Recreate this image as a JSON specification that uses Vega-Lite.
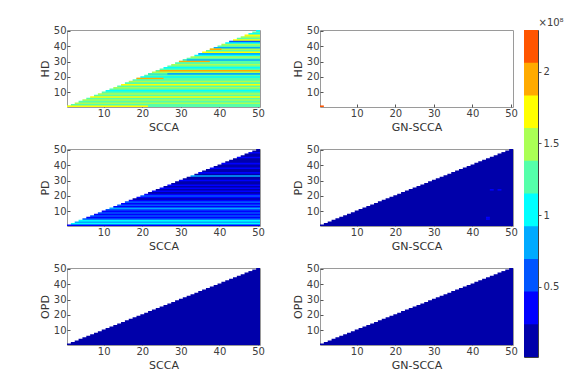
{
  "$schema": "https://vega.github.io/schema/vega-lite/v6.json",
  "padding": {"left": 38, "top": 16, "right": 5, "bottom": 5},
  "background": "white",
  "config": {
    "font": "DejaVu Sans",
    "view": {"stroke": "#9a9a9a", "strokeWidth": 1},
    "axis": {"labelFont": "DejaVu Sans", "labelFontSize": 10, "labelColor": "#404040", "titleFont": "DejaVu Sans", "titleFontSize": 11, "titleFontWeight": 400, "titleColor": "#333333", "domain": false, "tickColor": "#555555", "tickSize": -3, "grid": false, "labelPadding": 4, "titlePadding": 3},
    "rect": {"strokeWidth": 0}
  },
  "datasets": {
    "p1": [
      {"r":50,"y0":0.5,"y1":50.5,"xs":49.5,"xe":50.5,"v":1.04},
      {"r":49,"y0":0.5,"y1":49.5,"xs":48.5,"xe":50.5,"v":1.26},
      {"r":48,"y0":0.5,"y1":48.5,"xs":47.5,"xe":50.5,"v":1.04},
      {"r":47,"y0":0.5,"y1":47.5,"xs":46.5,"xe":50.5,"v":1.72},
      {"r":46,"y0":0.5,"y1":46.5,"xs":45.5,"xe":50.5,"v":1.49},
      {"r":45,"y0":0.5,"y1":45.5,"xs":44.5,"xe":50.5,"v":1.26},
      {"r":44,"y0":0.5,"y1":44.5,"xs":43.5,"xe":50.5,"v":1.72},
      {"r":43,"y0":0.5,"y1":43.5,"xs":42.5,"xe":50.5,"v":0.58},
      {"r":42,"y0":0.5,"y1":42.5,"xs":41.5,"xe":50.5,"v":1.04},
      {"r":41,"y0":0.5,"y1":41.5,"xs":40.5,"xe":50.5,"v":1.49},
      {"r":40,"y0":0.5,"y1":40.5,"xs":39.5,"xe":50.5,"v":1.26},
      {"r":39,"y0":0.5,"y1":39.5,"xs":38.5,"xe":50.5,"v":0.81},
      {"r":38,"y0":0.5,"y1":38.5,"xs":37.5,"xe":50.5,"v":1.49},
      {"r":38,"y0":37.5,"y1":38.5,"xs":37.5,"xe":40.5,"v":1.95},
      {"r":37,"y0":0.5,"y1":37.5,"xs":36.5,"xe":50.5,"v":1.26},
      {"r":36,"y0":0.5,"y1":36.5,"xs":35.5,"xe":50.5,"v":1.72},
      {"r":35,"y0":0.5,"y1":35.5,"xs":34.5,"xe":50.5,"v":0.81},
      {"r":34,"y0":0.5,"y1":34.5,"xs":33.5,"xe":50.5,"v":1.04},
      {"r":33,"y0":0.5,"y1":33.5,"xs":32.5,"xe":50.5,"v":1.49},
      {"r":32,"y0":0.5,"y1":32.5,"xs":31.5,"xe":50.5,"v":1.26},
      {"r":31,"y0":0.5,"y1":31.5,"xs":30.5,"xe":50.5,"v":0.81},
      {"r":31,"y0":30.5,"y1":31.5,"xs":30.5,"xe":31.5,"v":1.26},
      {"r":30,"y0":0.5,"y1":30.5,"xs":29.5,"xe":50.5,"v":1.26},
      {"r":30,"y0":29.5,"y1":30.5,"xs":29.5,"xe":37.5,"v":1.95},
      {"r":29,"y0":0.5,"y1":29.5,"xs":28.5,"xe":50.5,"v":1.26},
      {"r":28,"y0":0.5,"y1":28.5,"xs":27.5,"xe":50.5,"v":1.49},
      {"r":27,"y0":0.5,"y1":27.5,"xs":26.5,"xe":50.5,"v":1.26},
      {"r":26,"y0":0.5,"y1":26.5,"xs":25.5,"xe":50.5,"v":1.04},
      {"r":25,"y0":0.5,"y1":25.5,"xs":24.5,"xe":50.5,"v":1.26},
      {"r":24,"y0":0.5,"y1":24.5,"xs":23.5,"xe":50.5,"v":1.95},
      {"r":24,"y0":23.5,"y1":24.5,"xs":23.5,"xe":24.5,"v":1.26},
      {"r":23,"y0":0.5,"y1":23.5,"xs":22.5,"xe":50.5,"v":1.49},
      {"r":22,"y0":0.5,"y1":22.5,"xs":21.5,"xe":50.5,"v":0.81},
      {"r":22,"y0":21.5,"y1":22.5,"xs":21.5,"xe":26.5,"v":1.26},
      {"r":21,"y0":0.5,"y1":21.5,"xs":20.5,"xe":50.5,"v":1.26},
      {"r":20,"y0":0.5,"y1":20.5,"xs":19.5,"xe":50.5,"v":1.04},
      {"r":19,"y0":0.5,"y1":19.5,"xs":18.5,"xe":50.5,"v":1.26},
      {"r":19,"y0":18.5,"y1":19.5,"xs":18.5,"xe":25.5,"v":1.95},
      {"r":18,"y0":0.5,"y1":18.5,"xs":17.5,"xe":50.5,"v":1.26},
      {"r":17,"y0":0.5,"y1":17.5,"xs":16.5,"xe":50.5,"v":1.49},
      {"r":16,"y0":0.5,"y1":16.5,"xs":15.5,"xe":50.5,"v":1.26},
      {"r":15,"y0":0.5,"y1":15.5,"xs":14.5,"xe":50.5,"v":1.72},
      {"r":14,"y0":0.5,"y1":14.5,"xs":13.5,"xe":50.5,"v":1.26},
      {"r":13,"y0":0.5,"y1":13.5,"xs":12.5,"xe":50.5,"v":1.49},
      {"r":12,"y0":0.5,"y1":12.5,"xs":11.5,"xe":50.5,"v":1.26},
      {"r":11,"y0":0.5,"y1":11.5,"xs":10.5,"xe":50.5,"v":1.04},
      {"r":10,"y0":0.5,"y1":10.5,"xs":9.5,"xe":50.5,"v":1.26},
      {"r":9,"y0":0.5,"y1":9.5,"xs":8.5,"xe":50.5,"v":1.49},
      {"r":8,"y0":0.5,"y1":8.5,"xs":7.5,"xe":50.5,"v":1.26},
      {"r":7,"y0":0.5,"y1":7.5,"xs":6.5,"xe":50.5,"v":1.72},
      {"r":6,"y0":0.5,"y1":6.5,"xs":5.5,"xe":50.5,"v":1.26},
      {"r":5,"y0":0.5,"y1":5.5,"xs":4.5,"xe":50.5,"v":1.49},
      {"r":4,"y0":0.5,"y1":4.5,"xs":3.5,"xe":50.5,"v":1.26},
      {"r":3,"y0":0.5,"y1":3.5,"xs":2.5,"xe":50.5,"v":1.49},
      {"r":2,"y0":0.5,"y1":2.5,"xs":1.5,"xe":50.5,"v":1.26},
      {"r":1,"y0":0.5,"y1":1.5,"xs":0.5,"xe":50.5,"v":1.26},
      {"r":1,"y0":0.5,"y1":1.5,"xs":0.5,"xe":21.5,"v":1.72}
    ],
    "p2": [{"r":1,"y0":0.5,"y1":1.5,"xs":0.5,"xe":1.5,"v":2.18}],
    "p3": [
      {"r":50,"y0":0.5,"y1":50.5,"xs":49.5,"xe":50.5,"v":0.12},
      {"r":49,"y0":0.5,"y1":49.5,"xs":48.5,"xe":50.5,"v":0.12},
      {"r":48,"y0":0.5,"y1":48.5,"xs":47.5,"xe":50.5,"v":0.35},
      {"r":47,"y0":0.5,"y1":47.5,"xs":46.5,"xe":50.5,"v":0.12},
      {"r":46,"y0":0.5,"y1":46.5,"xs":45.5,"xe":50.5,"v":0.12},
      {"r":45,"y0":0.5,"y1":45.5,"xs":44.5,"xe":50.5,"v":0.35},
      {"r":44,"y0":0.5,"y1":44.5,"xs":43.5,"xe":50.5,"v":0.12},
      {"r":43,"y0":0.5,"y1":43.5,"xs":42.5,"xe":50.5,"v":0.12},
      {"r":42,"y0":0.5,"y1":42.5,"xs":41.5,"xe":50.5,"v":0.12},
      {"r":41,"y0":0.5,"y1":41.5,"xs":40.5,"xe":50.5,"v":0.35},
      {"r":40,"y0":0.5,"y1":40.5,"xs":39.5,"xe":50.5,"v":0.12},
      {"r":39,"y0":0.5,"y1":39.5,"xs":38.5,"xe":50.5,"v":0.12},
      {"r":38,"y0":0.5,"y1":38.5,"xs":37.5,"xe":50.5,"v":0.35},
      {"r":37,"y0":0.5,"y1":37.5,"xs":36.5,"xe":50.5,"v":0.12},
      {"r":36,"y0":0.5,"y1":36.5,"xs":35.5,"xe":50.5,"v":0.12},
      {"r":35,"y0":0.5,"y1":35.5,"xs":34.5,"xe":50.5,"v":0.35},
      {"r":34,"y0":0.5,"y1":34.5,"xs":33.5,"xe":50.5,"v":0.12},
      {"r":33,"y0":0.5,"y1":33.5,"xs":32.5,"xe":50.5,"v":0.81},
      {"r":32,"y0":0.5,"y1":32.5,"xs":31.5,"xe":50.5,"v":0.12},
      {"r":31,"y0":0.5,"y1":31.5,"xs":30.5,"xe":50.5,"v":0.12},
      {"r":30,"y0":0.5,"y1":30.5,"xs":29.5,"xe":50.5,"v":0.35},
      {"r":29,"y0":0.5,"y1":29.5,"xs":28.5,"xe":50.5,"v":0.12},
      {"r":28,"y0":0.5,"y1":28.5,"xs":27.5,"xe":50.5,"v":0.12},
      {"r":27,"y0":0.5,"y1":27.5,"xs":26.5,"xe":50.5,"v":0.35},
      {"r":26,"y0":0.5,"y1":26.5,"xs":25.5,"xe":50.5,"v":0.12},
      {"r":25,"y0":0.5,"y1":25.5,"xs":24.5,"xe":50.5,"v":0.35},
      {"r":24,"y0":0.5,"y1":24.5,"xs":23.5,"xe":50.5,"v":0.12},
      {"r":23,"y0":0.5,"y1":23.5,"xs":22.5,"xe":50.5,"v":0.35},
      {"r":22,"y0":0.5,"y1":22.5,"xs":21.5,"xe":50.5,"v":0.12},
      {"r":21,"y0":0.5,"y1":21.5,"xs":20.5,"xe":50.5,"v":0.35},
      {"r":20,"y0":0.5,"y1":20.5,"xs":19.5,"xe":50.5,"v":0.58},
      {"r":19,"y0":0.5,"y1":19.5,"xs":18.5,"xe":50.5,"v":0.35},
      {"r":18,"y0":0.5,"y1":18.5,"xs":17.5,"xe":50.5,"v":0.12},
      {"r":17,"y0":0.5,"y1":17.5,"xs":16.5,"xe":50.5,"v":0.35},
      {"r":16,"y0":0.5,"y1":16.5,"xs":15.5,"xe":50.5,"v":0.58},
      {"r":15,"y0":0.5,"y1":15.5,"xs":14.5,"xe":50.5,"v":0.35},
      {"r":14,"y0":0.5,"y1":14.5,"xs":13.5,"xe":50.5,"v":0.58},
      {"r":13,"y0":0.5,"y1":13.5,"xs":12.5,"xe":50.5,"v":0.35},
      {"r":12,"y0":0.5,"y1":12.5,"xs":11.5,"xe":50.5,"v":0.81},
      {"r":11,"y0":0.5,"y1":11.5,"xs":10.5,"xe":50.5,"v":0.58},
      {"r":10,"y0":0.5,"y1":10.5,"xs":9.5,"xe":50.5,"v":0.35},
      {"r":9,"y0":0.5,"y1":9.5,"xs":8.5,"xe":50.5,"v":0.58},
      {"r":8,"y0":0.5,"y1":8.5,"xs":7.5,"xe":50.5,"v":0.35},
      {"r":7,"y0":0.5,"y1":7.5,"xs":6.5,"xe":50.5,"v":0.58},
      {"r":6,"y0":0.5,"y1":6.5,"xs":5.5,"xe":50.5,"v":0.35},
      {"r":5,"y0":0.5,"y1":5.5,"xs":4.5,"xe":50.5,"v":0.58},
      {"r":4,"y0":0.5,"y1":4.5,"xs":3.5,"xe":50.5,"v":1.04},
      {"r":3,"y0":0.5,"y1":3.5,"xs":2.5,"xe":50.5,"v":0.81},
      {"r":2,"y0":0.5,"y1":2.5,"xs":1.5,"xe":50.5,"v":1.04},
      {"r":1,"y0":0.5,"y1":1.5,"xs":0.5,"xe":50.5,"v":0.35}
    ],
    "uni": [
      {"r":50,"y0":0.5,"y1":50.5,"xs":49.5,"xe":50.5,"v":0.12},{"r":49,"y0":0.5,"y1":49.5,"xs":48.5,"xe":50.5,"v":0.12},{"r":48,"y0":0.5,"y1":48.5,"xs":47.5,"xe":50.5,"v":0.12},{"r":47,"y0":0.5,"y1":47.5,"xs":46.5,"xe":50.5,"v":0.12},{"r":46,"y0":0.5,"y1":46.5,"xs":45.5,"xe":50.5,"v":0.12},
      {"r":45,"y0":0.5,"y1":45.5,"xs":44.5,"xe":50.5,"v":0.12},{"r":44,"y0":0.5,"y1":44.5,"xs":43.5,"xe":50.5,"v":0.12},{"r":43,"y0":0.5,"y1":43.5,"xs":42.5,"xe":50.5,"v":0.12},{"r":42,"y0":0.5,"y1":42.5,"xs":41.5,"xe":50.5,"v":0.12},{"r":41,"y0":0.5,"y1":41.5,"xs":40.5,"xe":50.5,"v":0.12},
      {"r":40,"y0":0.5,"y1":40.5,"xs":39.5,"xe":50.5,"v":0.12},{"r":39,"y0":0.5,"y1":39.5,"xs":38.5,"xe":50.5,"v":0.12},{"r":38,"y0":0.5,"y1":38.5,"xs":37.5,"xe":50.5,"v":0.12},{"r":37,"y0":0.5,"y1":37.5,"xs":36.5,"xe":50.5,"v":0.12},{"r":36,"y0":0.5,"y1":36.5,"xs":35.5,"xe":50.5,"v":0.12},
      {"r":35,"y0":0.5,"y1":35.5,"xs":34.5,"xe":50.5,"v":0.12},{"r":34,"y0":0.5,"y1":34.5,"xs":33.5,"xe":50.5,"v":0.12},{"r":33,"y0":0.5,"y1":33.5,"xs":32.5,"xe":50.5,"v":0.12},{"r":32,"y0":0.5,"y1":32.5,"xs":31.5,"xe":50.5,"v":0.12},{"r":31,"y0":0.5,"y1":31.5,"xs":30.5,"xe":50.5,"v":0.12},
      {"r":30,"y0":0.5,"y1":30.5,"xs":29.5,"xe":50.5,"v":0.12},{"r":29,"y0":0.5,"y1":29.5,"xs":28.5,"xe":50.5,"v":0.12},{"r":28,"y0":0.5,"y1":28.5,"xs":27.5,"xe":50.5,"v":0.12},{"r":27,"y0":0.5,"y1":27.5,"xs":26.5,"xe":50.5,"v":0.12},{"r":26,"y0":0.5,"y1":26.5,"xs":25.5,"xe":50.5,"v":0.12},
      {"r":25,"y0":0.5,"y1":25.5,"xs":24.5,"xe":50.5,"v":0.12},{"r":24,"y0":0.5,"y1":24.5,"xs":23.5,"xe":50.5,"v":0.12},{"r":23,"y0":0.5,"y1":23.5,"xs":22.5,"xe":50.5,"v":0.12},{"r":22,"y0":0.5,"y1":22.5,"xs":21.5,"xe":50.5,"v":0.12},{"r":21,"y0":0.5,"y1":21.5,"xs":20.5,"xe":50.5,"v":0.12},
      {"r":20,"y0":0.5,"y1":20.5,"xs":19.5,"xe":50.5,"v":0.12},{"r":19,"y0":0.5,"y1":19.5,"xs":18.5,"xe":50.5,"v":0.12},{"r":18,"y0":0.5,"y1":18.5,"xs":17.5,"xe":50.5,"v":0.12},{"r":17,"y0":0.5,"y1":17.5,"xs":16.5,"xe":50.5,"v":0.12},{"r":16,"y0":0.5,"y1":16.5,"xs":15.5,"xe":50.5,"v":0.12},
      {"r":15,"y0":0.5,"y1":15.5,"xs":14.5,"xe":50.5,"v":0.12},{"r":14,"y0":0.5,"y1":14.5,"xs":13.5,"xe":50.5,"v":0.12},{"r":13,"y0":0.5,"y1":13.5,"xs":12.5,"xe":50.5,"v":0.12},{"r":12,"y0":0.5,"y1":12.5,"xs":11.5,"xe":50.5,"v":0.12},{"r":11,"y0":0.5,"y1":11.5,"xs":10.5,"xe":50.5,"v":0.12},
      {"r":10,"y0":0.5,"y1":10.5,"xs":9.5,"xe":50.5,"v":0.12},{"r":9,"y0":0.5,"y1":9.5,"xs":8.5,"xe":50.5,"v":0.12},{"r":8,"y0":0.5,"y1":8.5,"xs":7.5,"xe":50.5,"v":0.12},{"r":7,"y0":0.5,"y1":7.5,"xs":6.5,"xe":50.5,"v":0.12},{"r":6,"y0":0.5,"y1":6.5,"xs":5.5,"xe":50.5,"v":0.12},
      {"r":5,"y0":0.5,"y1":5.5,"xs":4.5,"xe":50.5,"v":0.12},{"r":4,"y0":0.5,"y1":4.5,"xs":3.5,"xe":50.5,"v":0.12},{"r":3,"y0":0.5,"y1":3.5,"xs":2.5,"xe":50.5,"v":0.12},{"r":2,"y0":0.5,"y1":2.5,"xs":1.5,"xe":50.5,"v":0.12},{"r":1,"y0":0.5,"y1":1.5,"xs":0.5,"xe":50.5,"v":0.12}
    ],
    "p4x": [
      {"r":6,"y0":5.5,"y1":6.5,"xs":43.5,"xe":44.5,"v":0.35},{"r":5,"y0":4.5,"y1":5.5,"xs":43.5,"xe":44.5,"v":0.35},
      {"r":24,"y0":23.5,"y1":24.5,"xs":44.5,"xe":45.5,"v":0.35},{"r":24,"y0":23.5,"y1":24.5,"xs":46.5,"xe":47.5,"v":0.35}
    ],
    "cb": [
      {"lo":0.01,"hi":2.29,"v":2.18},{"lo":0.01,"hi":2.062,"v":1.95},{"lo":0.01,"hi":1.834,"v":1.72},{"lo":0.01,"hi":1.606,"v":1.49},{"lo":0.01,"hi":1.378,"v":1.26},
      {"lo":0.01,"hi":1.15,"v":1.04},{"lo":0.01,"hi":0.922,"v":0.81},{"lo":0.01,"hi":0.694,"v":0.58},{"lo":0.01,"hi":0.466,"v":0.35},{"lo":0.01,"hi":0.238,"v":0.12}
    ]
  },
  "bounds": "flush",
  "spacing": 457,
  "hconcat": [
    {
      "bounds": "flush",
      "spacing": {"column": 60, "row": 42},
      "columns": 2,
      "concat": [
        {"width":193,"height":77,"data":{"name":"p1"},"mark":"rect",
         "encoding":{
          "y":{"field":"y1","type":"quantitative","scale":{"domain":[0.5,50.5],"nice":false,"zero":false},"axis":{"values":[10,20,30,40,50],"title":"HD"}},
          "y2":{"field":"y0"},
          "x":{"field":"xs","type":"quantitative","scale":{"domain":[0.5,50.5],"nice":false,"zero":false},"axis":{"values":[10,20,30,40,50],"title":"SCCA"}},
          "x2":{"field":"xe"},
          "color":{"field":"v","type":"quantitative","scale":{"type":"threshold","domain":[0.238,0.466,0.694,0.922,1.15,1.378,1.606,1.834,2.062],"range":["#0000AA","#0000FF","#0055FF","#00AAFF","#00FFFF","#55FFAA","#AAFF55","#FFFF00","#FFAA00","#FF5500"]},"legend":null}
         }},
        {"width":193,"height":77,"data":{"name":"p2"},"mark":"rect",
         "encoding":{
          "y":{"field":"y1","type":"quantitative","scale":{"domain":[0.5,50.5],"nice":false,"zero":false},"axis":{"values":[10,20,30,40,50],"title":"HD"}},
          "y2":{"field":"y0"},
          "x":{"field":"xs","type":"quantitative","scale":{"domain":[0.5,50.5],"nice":false,"zero":false},"axis":{"values":[10,20,30,40,50],"title":"GN-SCCA"}},
          "x2":{"field":"xe"},
          "color":{"field":"v","type":"quantitative","scale":{"type":"threshold","domain":[0.238,0.466,0.694,0.922,1.15,1.378,1.606,1.834,2.062],"range":["#0000AA","#0000FF","#0055FF","#00AAFF","#00FFFF","#55FFAA","#AAFF55","#FFFF00","#FFAA00","#FF5500"]},"legend":null}
         }},
        {"width":193,"height":77,"data":{"name":"p3"},"mark":"rect",
         "encoding":{
          "y":{"field":"y1","type":"quantitative","scale":{"domain":[0.5,50.5],"nice":false,"zero":false},"axis":{"values":[10,20,30,40,50],"title":"PD"}},
          "y2":{"field":"y0"},
          "x":{"field":"xs","type":"quantitative","scale":{"domain":[0.5,50.5],"nice":false,"zero":false},"axis":{"values":[10,20,30,40,50],"title":"SCCA"}},
          "x2":{"field":"xe"},
          "color":{"field":"v","type":"quantitative","scale":{"type":"threshold","domain":[0.238,0.466,0.694,0.922,1.15,1.378,1.606,1.834,2.062],"range":["#0000AA","#0000FF","#0055FF","#00AAFF","#00FFFF","#55FFAA","#AAFF55","#FFFF00","#FFAA00","#FF5500"]},"legend":null}
         }},
        {"width":193,"height":77,
         "encoding":{
          "y":{"field":"y1","type":"quantitative","scale":{"domain":[0.5,50.5],"nice":false,"zero":false},"axis":{"values":[10,20,30,40,50],"title":"PD"}},
          "y2":{"field":"y0"},
          "x":{"field":"xs","type":"quantitative","scale":{"domain":[0.5,50.5],"nice":false,"zero":false},"axis":{"values":[10,20,30,40,50],"title":"GN-SCCA"}},
          "x2":{"field":"xe"},
          "color":{"field":"v","type":"quantitative","scale":{"type":"threshold","domain":[0.238,0.466,0.694,0.922,1.15,1.378,1.606,1.834,2.062],"range":["#0000AA","#0000FF","#0055FF","#00AAFF","#00FFFF","#55FFAA","#AAFF55","#FFFF00","#FFAA00","#FF5500"]},"legend":null}
         },
         "layer":[
          {"data":{"name":"uni"},"mark":"rect"},
          {"data":{"name":"p4x"},"mark":"rect"}
         ]},
        {"width":193,"height":77,"data":{"name":"uni"},"mark":"rect",
         "encoding":{
          "y":{"field":"y1","type":"quantitative","scale":{"domain":[0.5,50.5],"nice":false,"zero":false},"axis":{"values":[10,20,30,40,50],"title":"OPD"}},
          "y2":{"field":"y0"},
          "x":{"field":"xs","type":"quantitative","scale":{"domain":[0.5,50.5],"nice":false,"zero":false},"axis":{"values":[10,20,30,40,50],"title":"SCCA"}},
          "x2":{"field":"xe"},
          "color":{"field":"v","type":"quantitative","scale":{"type":"threshold","domain":[0.238,0.466,0.694,0.922,1.15,1.378,1.606,1.834,2.062],"range":["#0000AA","#0000FF","#0055FF","#00AAFF","#00FFFF","#55FFAA","#AAFF55","#FFFF00","#FFAA00","#FF5500"]},"legend":null}
         }},
        {"width":193,"height":77,"data":{"name":"uni"},"mark":"rect",
         "encoding":{
          "y":{"field":"y1","type":"quantitative","scale":{"domain":[0.5,50.5],"nice":false,"zero":false},"axis":{"values":[10,20,30,40,50],"title":"OPD"}},
          "y2":{"field":"y0"},
          "x":{"field":"xs","type":"quantitative","scale":{"domain":[0.5,50.5],"nice":false,"zero":false},"axis":{"values":[10,20,30,40,50],"title":"GN-SCCA"}},
          "x2":{"field":"xe"},
          "color":{"field":"v","type":"quantitative","scale":{"type":"threshold","domain":[0.238,0.466,0.694,0.922,1.15,1.378,1.606,1.834,2.062],"range":["#0000AA","#0000FF","#0055FF","#00AAFF","#00FFFF","#55FFAA","#AAFF55","#FFFF00","#FFAA00","#FF5500"]},"legend":null}
         }}
      ]
    },
    {"width":14,"height":327,"data":{"name":"cb"},"mark":{"type":"rect","strokeWidth":0},
     "view":{"stroke":"#404040"},
     "encoding":{
      "y":{"field":"lo","type":"quantitative","scale":{"domain":[0.01,2.29],"nice":false,"zero":false},"axis":{"orient":"right","values":[0.5,1,1.5,2],"format":"~g","tickSize":3,"labelPadding":2,"title":"×10⁸","titleAngle":0,"titleAlign":"left","titleBaseline":"bottom","titleX":0,"titleY":-3,"titleFontSize":10,"titleColor":"#404040"}},
      "y2":{"field":"hi"},
      "color":{"field":"v","type":"quantitative","scale":{"type":"threshold","domain":[0.238,0.466,0.694,0.922,1.15,1.378,1.606,1.834,2.062],"range":["#0000AA","#0000FF","#0055FF","#00AAFF","#00FFFF","#55FFAA","#AAFF55","#FFFF00","#FFAA00","#FF5500"]},"legend":null}
     }}
  ]
}
